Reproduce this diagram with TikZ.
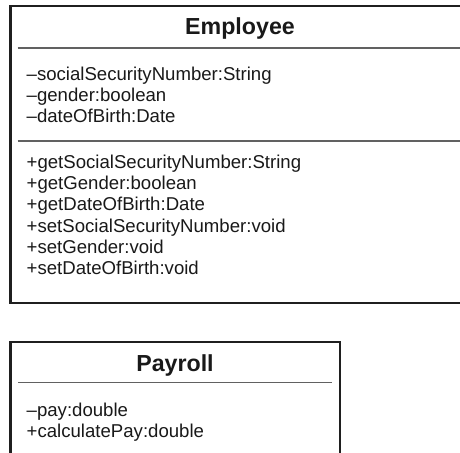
\documentclass[tikz,border=0pt]{standalone}
\usepackage{fontspec}
\setmainfont{Liberation Sans}
\begin{document}
\begin{tikzpicture}[x=1pt,y=-1pt,
    frame/.style={draw=black!88,line width=2.4pt},
    divider/.style={draw=black!62,line width=1.4pt},
    classname/.style={font=\bfseries\fontsize{23.2}{26}\selectfont,text=black!90,anchor=base,inner sep=0pt},
    member/.style={font=\fontsize{18.6}{21}\selectfont,text=black!90,anchor=base west,inner sep=0pt}]
  \useasboundingbox (0,0) rectangle (460,452);
  \clip (0,0) rectangle (460,452);
  \fill[white] (0,0) rectangle (460,452);

  % Employee class
  \draw[frame] (10.5,6) rectangle (470,303);
  \draw[divider] (17.5,48) -- (470,48);
  \draw[divider] (17.5,141) -- (470,141);
  \node[classname] (empname) at (240,35) {Employee};
  \foreach \t [count=\i] in {–socialSecurityNumber:String,–gender:boolean,–dateOfBirth:Date}
    \node[member,name=empattr\i] at (26.5,{80+21.2*(\i-1)}) {\t};
  \foreach \t [count=\i] in {+getSocialSecurityNumber:String,+getGender:boolean,+getDateOfBirth:Date,+setSocialSecurityNumber:void,+setGender:void,+setDateOfBirth:void}
    \node[member,name=empop\i] at (26.5,{168.3+21.3*(\i-1)}) {\t};

  % Payroll class (continues below)
  \draw[frame] (10.5,460) -- (10.5,342) -- (340,342) -- (340,460);
  \draw[divider] (18,382.5) -- (332,382.5);
  \node[classname] (payname) at (175,371.5) {Payroll};
  \node[member] (payattr) at (26.5,416) {–pay:double};
  \node[member] (payop) at (26.5,437.3) {+calculatePay:double};
\end{tikzpicture}
\end{document}
